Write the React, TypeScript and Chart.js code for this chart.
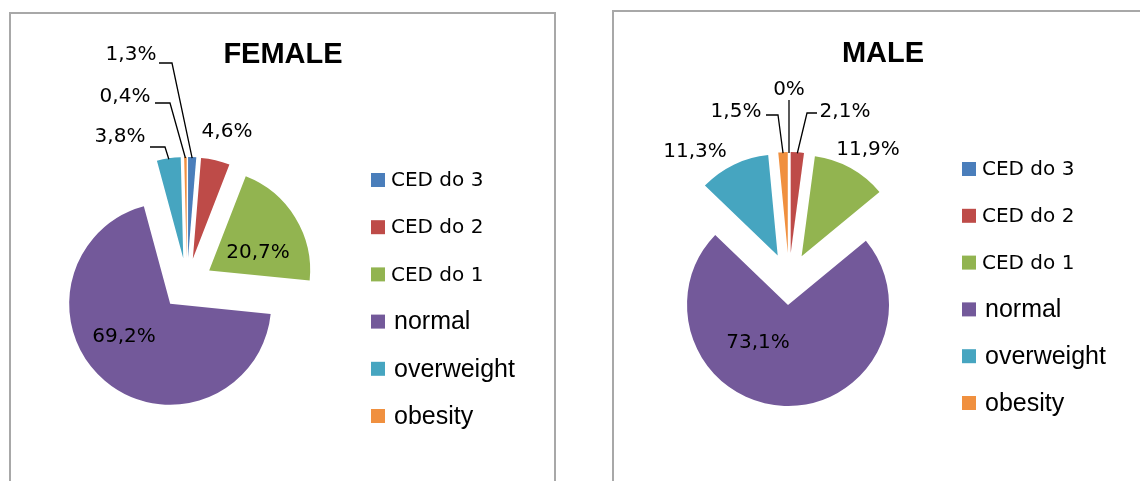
import React, { useEffect, useRef } from "react";
import { Chart, registerables } from "chart.js";

Chart.register(...registerables);

// ---------- data ----------
const categories = ["CED do 3", "CED do 2", "CED do 1", "normal", "overweight", "obesity"];
const femaleValues = [1.3, 4.6, 20.7, 69.2, 3.8, 0.4];
const maleValues = [0, 2.1, 11.9, 73.1, 11.3, 1.5];
const sliceColors = ["#4A7EBB", "#BE4B48", "#92B450", "#73599A", "#46A5C0", "#F0903F"];
const chartTitles = ["FEMALE", "MALE"];

const fmt = (v: number) => (v === 0 ? "0%" : v.toFixed(1).replace(".", ",") + "%");

// ---------- layout (positions relative to pie centre) ----------
type LabelLayout = { dx: number; dy: number; leader?: [number, number][] };
type PieLayout = {
  left: number;
  width: number;
  height: number;
  cx: number;
  cy: number;
  radius: number;
  explode: number;
  titleX: number;
  titleY: number;
  legendX: number;
  legendY: number;
  legendStep: number;
  labels: LabelLayout[];
};

const femaleLayout: PieLayout = {
  left: 0,
  width: 570,
  height: 481,
  cx: 187,
  cy: 284,
  radius: 101,
  explode: 26,
  titleX: 283,
  titleY: 55,
  legendX: 371,
  legendY: 180,
  legendStep: 47.2,
  labels: [
    { dx: -56, dy: -229, leader: [[-28, -221], [-15, -221]] },
    { dx: 40, dy: -152 },
    { dx: 71, dy: -31 },
    { dx: -63, dy: 53 },
    { dx: -67, dy: -147, leader: [[-37, -137], [-22, -137]] },
    { dx: -62, dy: -187, leader: [[-32, -181], [-17, -181]] },
  ],
};

const maleLayout: PieLayout = {
  left: 570,
  width: 570,
  height: 481,
  cx: 219,
  cy: 279,
  radius: 101,
  explode: 26,
  titleX: 313,
  titleY: 54,
  legendX: 392,
  legendY: 169,
  legendStep: 46.8,
  labels: [
    { dx: 0, dy: -189, leader: [[0, -179]] },
    { dx: 56, dy: -167, leader: [[28, -166], [18, -166]] },
    { dx: 79, dy: -129 },
    { dx: -31, dy: 64 },
    { dx: -94, dy: -127 },
    { dx: -53, dy: -167, leader: [[-23, -164], [-11, -164]] },
  ],
};

const labelFont = '20px "DejaVu Sans"';
const legendFontCED = '20px "DejaVu Sans"';
const legendFontOther = '25px "Liberation Sans"';
const titleFont = 'bold 29px "Liberation Sans"';

function makeDecorPlugin(layout: PieLayout, title: string, texts: string[]) {
  return {
    id: "decor",
    // draw every arc (with the library's ArcElement) pushed out along its mid-angle
    beforeDatasetDraw(chart: any, args: any) {
      const ctx: CanvasRenderingContext2D = chart.ctx;
      const d = layout.explode;
      args.meta.data.forEach((arc: any) => {
        const p = arc.getProps(["startAngle", "endAngle"], true);
        if (p.endAngle - p.startAngle <= 0) return;
        const mid = (p.startAngle + p.endAngle) / 2;
        ctx.save();
        ctx.translate(Math.cos(mid) * d, Math.sin(mid) * d);
        arc.draw(ctx, chart.chartArea);
        ctx.restore();
      });
      return false;
    },
    afterDatasetsDraw(chart: any) {
      const ctx: CanvasRenderingContext2D = chart.ctx;
      const meta = chart.getDatasetMeta(0);
      const d = layout.explode;
      ctx.save();
      // title
      ctx.fillStyle = "#000";
      ctx.font = titleFont;
      ctx.textAlign = "center";
      ctx.textBaseline = "middle";
      ctx.fillText(title, layout.titleX, layout.titleY);

      // data labels + leader lines
      meta.data.forEach((arc: any, i: number) => {
        const p = arc.getProps(["x", "y", "startAngle", "endAngle", "outerRadius"], true);
        const lab = layout.labels[i];
        const lx = p.x + lab.dx;
        const ly = p.y + lab.dy;
        if (lab.leader) {
          const mid = (p.startAngle + p.endAngle) / 2;
          const ex = p.x + Math.cos(mid) * (p.outerRadius + d - 1);
          const ey = p.y + Math.sin(mid) * (p.outerRadius + d - 1);
          ctx.beginPath();
          ctx.strokeStyle = "#000";
          ctx.lineWidth = 1.3;
          lab.leader.forEach(([ax, ay], k) => {
            if (k === 0) ctx.moveTo(p.x + ax, p.y + ay);
            else ctx.lineTo(p.x + ax, p.y + ay);
          });
          ctx.lineTo(ex, ey);
          ctx.stroke();
        }
        ctx.font = labelFont;
        ctx.fillStyle = "#000";
        ctx.textAlign = "center";
        ctx.textBaseline = "middle";
        ctx.fillText(texts[i], lx, ly);
      });

      // legend
      const labels: string[] = chart.data.labels;
      const colors: string[] = chart.data.datasets[0].backgroundColor;
      labels.forEach((name, i) => {
        const y = layout.legendY + i * layout.legendStep;
        ctx.fillStyle = colors[i];
        ctx.fillRect(layout.legendX, y - 7, 14, 14);
        const isCED = name.startsWith("CED");
        ctx.font = isCED ? legendFontCED : legendFontOther;
        ctx.fillStyle = "#000";
        ctx.textAlign = "left";
        ctx.textBaseline = "middle";
        ctx.fillText(name, layout.legendX + (isCED ? 20 : 23), y + 1);
      });
      ctx.restore();
    },
  };
}

function PieCanvas({ layout, values, title }: { layout: PieLayout; values: number[]; title: string }) {
  const ref = useRef<HTMLCanvasElement | null>(null);
  useEffect(() => {
    if (!ref.current) return;
    const half = 120;
    const chart = new Chart(ref.current, {
      type: "pie",
      data: {
        labels: categories,
        datasets: [
          {
            data: values,
            backgroundColor: sliceColors,
            borderWidth: 0,
            offset: 0,
          } as any,
        ],
      },
      options: {
        animation: false,
        responsive: false,
        maintainAspectRatio: false,
        events: [],
        radius: layout.radius,
        layout: {
          padding: {
            left: layout.cx - half,
            right: layout.width - (layout.cx + half),
            top: layout.cy - half,
            bottom: layout.height - (layout.cy + half),
          },
        },
        plugins: {
          legend: { display: false },
          title: { display: false },
          tooltip: { enabled: false },
        },
      } as any,
      plugins: [makeDecorPlugin(layout, title, values.map(fmt))],
    });
    return () => chart.destroy();
  }, [layout, values, title]);
  return (
    <canvas
      ref={ref}
      width={layout.width}
      height={layout.height}
      style={{ position: "absolute", left: layout.left, top: 0, width: layout.width, height: layout.height }}
    />
  );
}

export default function App() {
  return (
    <div
      style={{
        position: "fixed",
        left: 0,
        top: 0,
        width: 1140,
        height: 481,
        overflow: "hidden",
        background: "#fff",
      }}
    >
      <div
        style={{
          position: "absolute",
          left: 9,
          top: 12,
          width: 543,
          height: 500,
          borderTop: "2px solid #a8a8a8",
          borderLeft: "2px solid #a8a8a8",
          borderRight: "2px solid #a8a8a8",
        }}
      />
      <div
        style={{
          position: "absolute",
          left: 612,
          top: 10,
          width: 560,
          height: 500,
          borderTop: "2px solid #a8a8a8",
          borderLeft: "2px solid #a8a8a8",
        }}
      />
      <PieCanvas layout={femaleLayout} values={femaleValues} title={chartTitles[0]} />
      <PieCanvas layout={maleLayout} values={maleValues} title={chartTitles[1]} />
    </div>
  );
}
